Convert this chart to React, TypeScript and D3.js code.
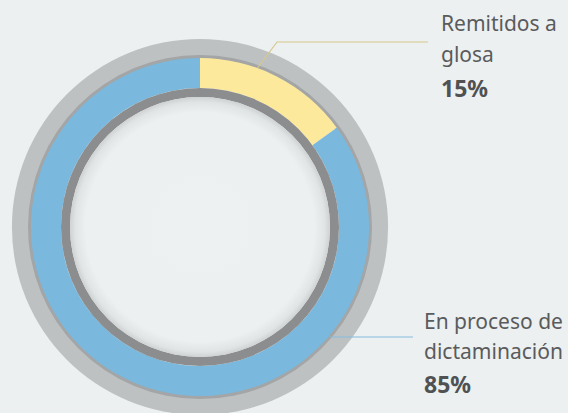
import React from "react";
import * as d3 from "d3";

const categories = ["Remitidos a glosa", "En proceso de dictaminación"];
const values = [15, 85];
const labelLines = [["Remitidos a", "glosa"], ["En proceso de", "dictaminación"]];
const percentLabels = ["15%", "85%"];
const colors = ["#fde99b", "#7ab8dd"];
const leaderColors = ["#d8c88c", "#86bbdf"];

const W = 568;
const H = 413;
const cx = 200;
const cy = 227;

export default function App() {
  const pie = d3.pie<number>().sort(null).value((d) => d)(values);
  const segArc = d3.arc<d3.PieArcDatum<number>>().innerRadius(139).outerRadius(169);
  const ring = (r0: number, r1: number) =>
    d3.arc()({ innerRadius: r0, outerRadius: r1, startAngle: 0, endAngle: 2 * Math.PI }) as string;

  const leaderA = d3.line()([[257.5, 68], [277, 42], [428, 42]]);
  const leaderB = d3.line()([[330, 337], [413, 337]]);
  const textPos = [
    { x: 441, ys: [31, 62, 97] },
    { x: 424, ys: [329, 359, 393] },
  ];

  return (
    <svg width={W} height={H} style={{ position: "absolute", left: 0, top: 0 }}>
      <defs>
        <radialGradient id="inner" cx="0.5" cy="0.5" r="0.5">
          <stop offset="0" stopColor="#eef1f2" />
          <stop offset="0.88" stopColor="#edf0f1" />
          <stop offset="0.96" stopColor="#e1e4e5" />
          <stop offset="1" stopColor="#cfd2d3" />
        </radialGradient>
      </defs>
      <rect width={W} height={H} fill="#ecf0f1" />
      <g transform={`translate(${cx},${cy})`}>
        <path d={ring(169, 188)} fill="#bec1c2" />
        <path d={ring(167, 172)} fill="#a3a5a6" />
        {pie.map((p, i) => (
          <path key={categories[i]} d={segArc(p) as string} fill={colors[i]} />
        ))}
        <path d={ring(130, 139)} fill="#8c8d8e" />
        <circle r={130} fill="url(#inner)" />
      </g>
      <path d={leaderA as string} fill="none" stroke={leaderColors[0]} strokeWidth={1.2} />
      <path d={leaderB as string} fill="none" stroke={leaderColors[1]} strokeWidth={1.2} />
      {textPos.map((t, i) => (
        <g key={i} fontFamily="'Noto Sans', sans-serif">
          <text x={t.x} y={t.ys[0]} fontSize={21} fill="#5a5b5c">{labelLines[i][0]}</text>
          <text
            x={t.x}
            y={t.ys[1]}
            fontSize={21}
            fill="#5a5b5c"
            {...(i === 1 ? { textLength: 139, lengthAdjust: "spacingAndGlyphs" } : {})}
          >
            {labelLines[i][1]}
          </text>
          <text x={t.x} y={t.ys[2]} fontSize={23} fontWeight="bold" fill="#505152">{percentLabels[i]}</text>
        </g>
      ))}
    </svg>
  );
}
